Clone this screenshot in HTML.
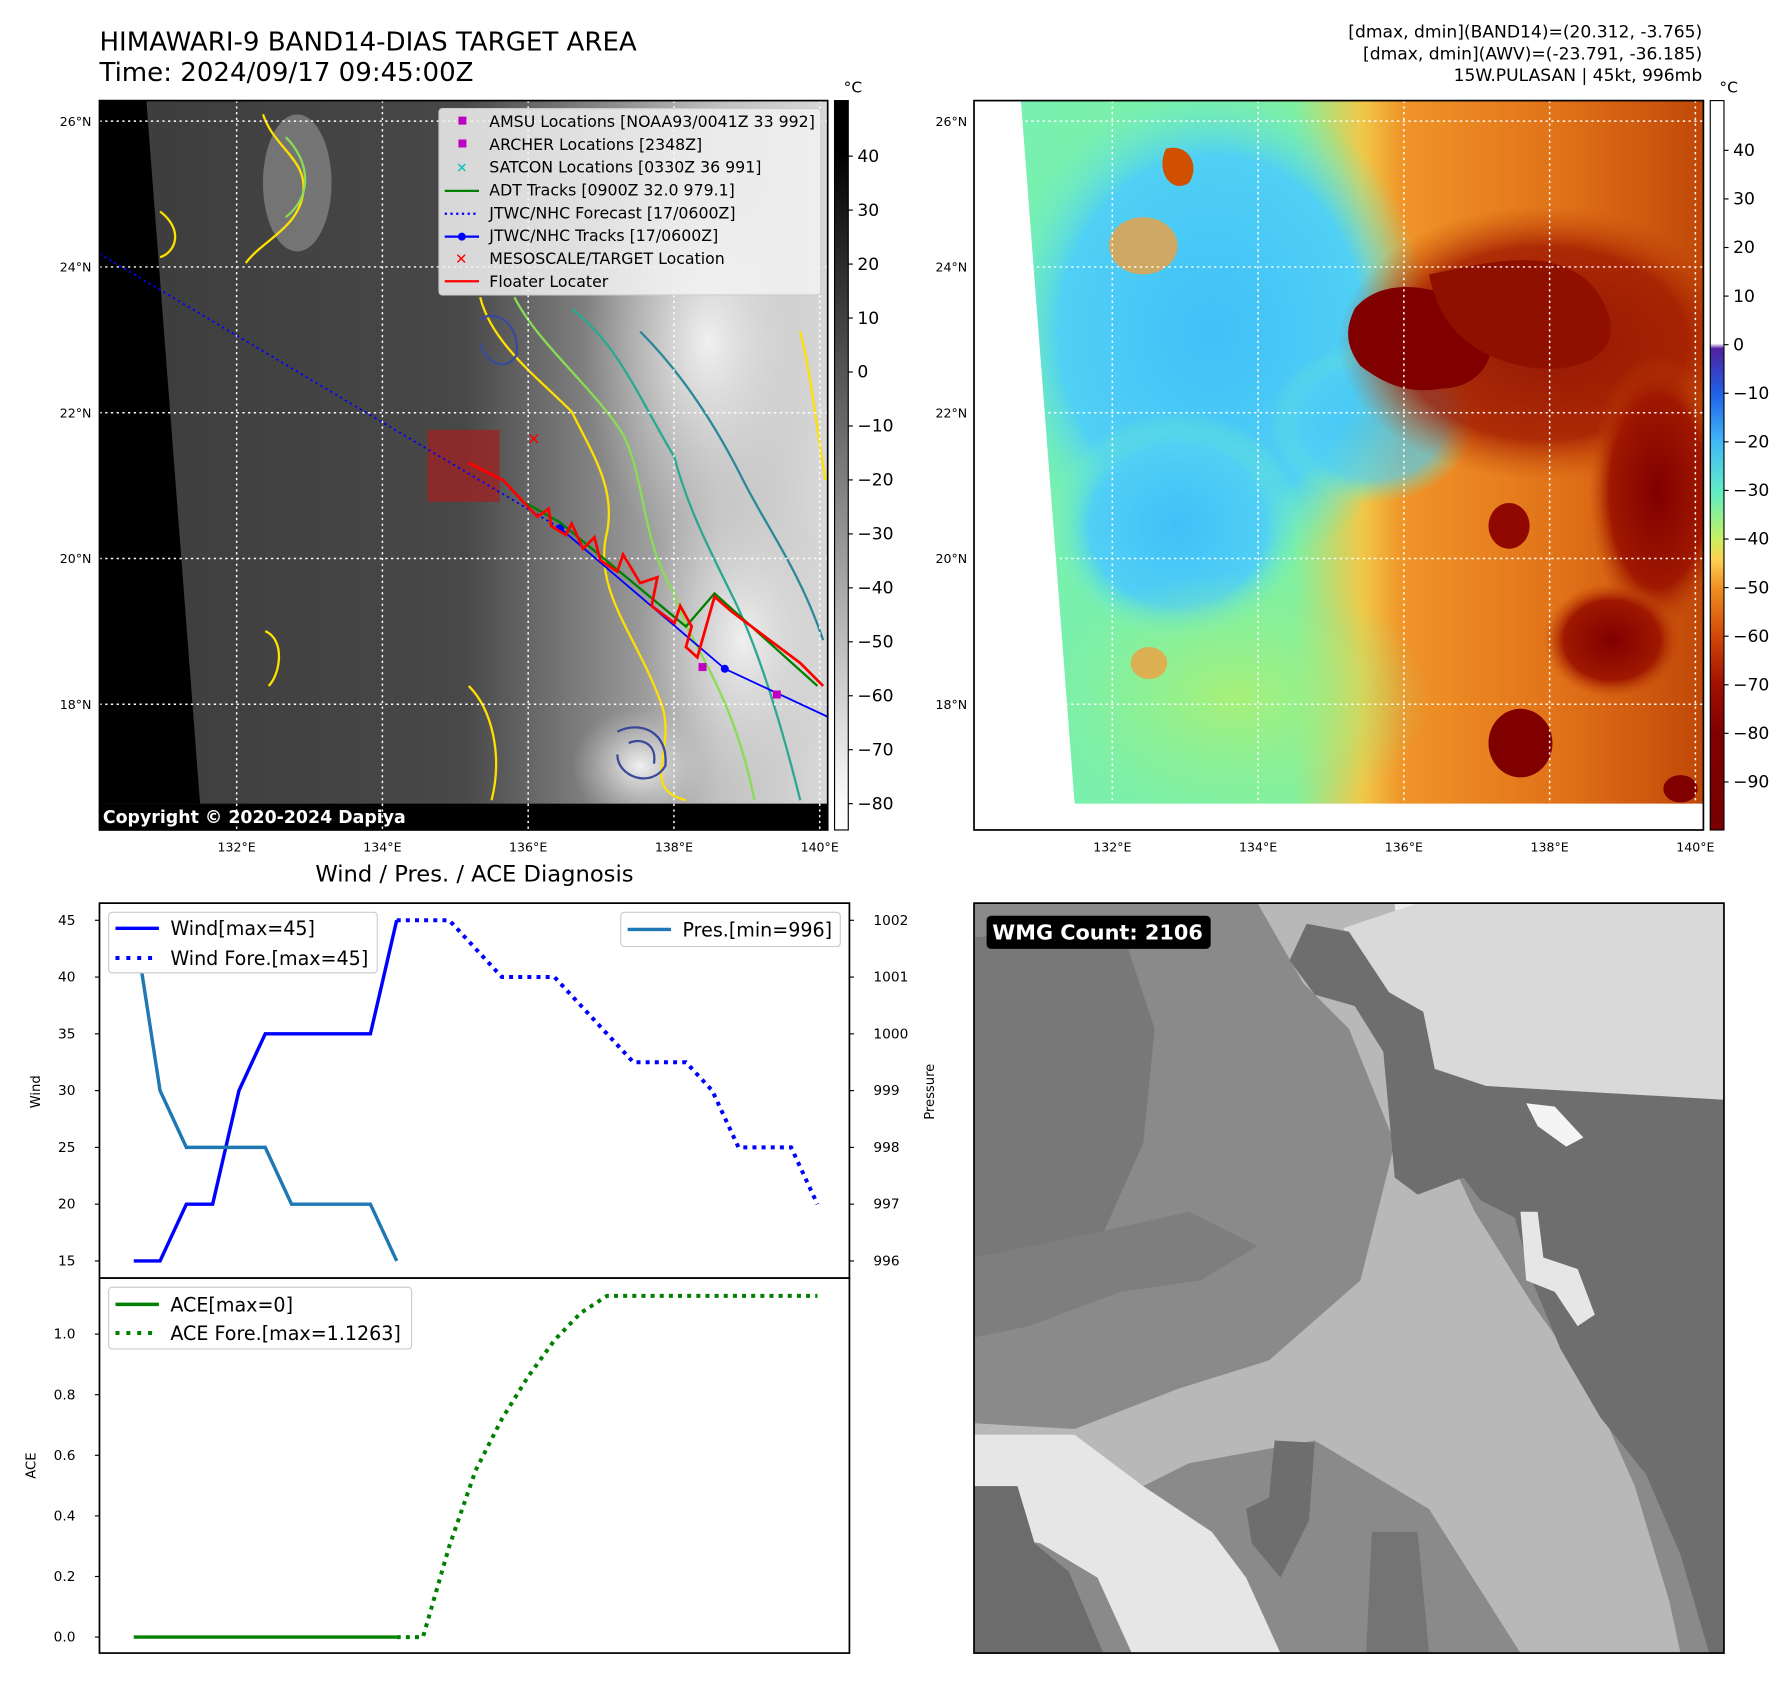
<!DOCTYPE html>
<html><head><meta charset="utf-8"><style>
html,body{margin:0;padding:0;background:#fff}
svg{display:block;font-family:"DejaVu Sans","Liberation Sans",sans-serif}
</style></head><body>
<svg id="fig" width="1792" height="1690" viewBox="0 0 1567.5 1478.3" xmlns="http://www.w3.org/2000/svg">
<defs>
<linearGradient id="gcb" x1="0" y1="1" x2="0" y2="0">
<stop offset="0" stop-color="#ffffff"/><stop offset="0.04" stop-color="#fafafa"/><stop offset="0.93" stop-color="#000"/><stop offset="1" stop-color="#000"/></linearGradient>
<linearGradient id="ccb" x1="0" y1="1" x2="0" y2="0">
<stop offset="0" stop-color="#780000"/><stop offset="0.133" stop-color="#800000"/><stop offset="0.199" stop-color="#a01000"/><stop offset="0.266" stop-color="#d04808"/><stop offset="0.332" stop-color="#f09020"/><stop offset="0.37" stop-color="#ffd050"/><stop offset="0.399" stop-color="#c8f060"/><stop offset="0.44" stop-color="#80f0a0"/><stop offset="0.465" stop-color="#60ecc8"/><stop offset="0.532" stop-color="#40b8f8"/><stop offset="0.599" stop-color="#2060e8"/><stop offset="0.66" stop-color="#5020a0"/><stop offset="0.667" stop-color="#ffffff"/><stop offset="1" stop-color="#ffffff"/></linearGradient>
<linearGradient id="lmap" x1="0" y1="0" x2="1" y2="0">
<stop offset="0" stop-color="#3c3c3c"/><stop offset="0.5" stop-color="#484848"/><stop offset="0.7" stop-color="#8a8a8a"/><stop offset="0.85" stop-color="#c0c0c0"/><stop offset="1" stop-color="#d8d8d8"/></linearGradient>
<linearGradient id="rmap" x1="0" y1="0" x2="1" y2="0">
<stop offset="0" stop-color="#78f0b0"/><stop offset="0.4" stop-color="#80f0a0"/><stop offset="0.5" stop-color="#f0c848"/><stop offset="0.56" stop-color="#f09428"/><stop offset="0.8" stop-color="#e07018"/><stop offset="1" stop-color="#c04808"/></linearGradient>
<radialGradient id="cyan" cx="0.5" cy="0.5" r="0.5"><stop offset="0" stop-color="#40c0f8"/><stop offset="0.7" stop-color="#50d0f4"/><stop offset="1" stop-color="#70f0c0" stop-opacity="0"/></radialGradient>
<radialGradient id="cloud" cx="0.5" cy="0.5" r="0.5"><stop offset="0" stop-color="#f0f0f0"/><stop offset="1" stop-color="#c8c8c8" stop-opacity="0"/></radialGradient>
<radialGradient id="dred" cx="0.5" cy="0.5" r="0.5"><stop offset="0" stop-color="#800000"/><stop offset="0.7" stop-color="#a01800"/><stop offset="1" stop-color="#c04808" stop-opacity="0"/></radialGradient>
<radialGradient id="grn" cx="0.5" cy="0.5" r="0.5"><stop offset="0" stop-color="#a8f078"/><stop offset="1" stop-color="#90f090" stop-opacity="0"/></radialGradient>
<clipPath id="clipL"><rect x="87" y="88" width="637" height="638"/></clipPath>
<clipPath id="clipR"><rect x="852" y="88" width="638" height="638"/></clipPath>
<clipPath id="clipRP"><polygon points="893,88 1490,88 1490,703 940,703"/></clipPath>
</defs>

<text x="87" y="44" font-size="22.8">HIMAWARI-9 BAND14-DIAS TARGET AREA</text>
<text x="87" y="71" font-size="22.8">Time: 2024/09/17 09:45:00Z</text>
<text x="1489" y="33" font-size="15" text-anchor="end">[dmax, dmin](BAND14)=(20.312, -3.765)</text>
<text x="1489" y="52" font-size="15" text-anchor="end">[dmax, dmin](AWV)=(-23.791, -36.185)</text>
<text x="1489" y="71" font-size="15" text-anchor="end">15W.PULASAN | 45kt, 996mb</text>

<g id="leftmap" clip-path="url(#clipL)">
<rect x="87" y="88" width="637" height="638" fill="url(#lmap)"/>
<ellipse cx="620" cy="300" rx="110" ry="190" fill="url(#cloud)"/>
<ellipse cx="650" cy="560" rx="90" ry="150" fill="url(#cloud)"/>
<ellipse cx="560" cy="670" rx="60" ry="50" fill="url(#cloud)"/>
<ellipse cx="260" cy="160" rx="30" ry="60" fill="#8a8a8a" opacity="0.7"/>
<polygon points="87,88 128,88 175,703 87,703" fill="#000"/>
<rect x="87" y="703" width="637" height="23" fill="#000"/>
<g fill="none" stroke-width="2">
<path d="M420,260 C430,300 470,330 500,360 C520,400 540,430 530,470 C520,520 560,560 580,620 C590,660 560,690 600,700" stroke="#ffe000"/>
<path d="M450,260 C470,300 520,340 545,380 C565,420 560,470 590,520 C600,560 640,600 660,700" stroke="#88dd55"/>
<path d="M500,270 C540,300 560,350 590,400 C600,440 620,480 640,520 C660,560 680,620 700,700" stroke="#2aa890"/>
<path d="M560,290 C600,330 630,380 650,420 C670,460 700,500 720,560" stroke="#2a8898"/>
<path d="M230,100 C240,130 270,140 265,170 C260,200 230,210 215,230" stroke="#ffe000"/>
<path d="M250,120 C270,140 275,170 250,190" stroke="#88dd55"/>
<path d="M140,185 C160,200 155,220 140,225" stroke="#ffe000"/>
<path d="M232,552 C250,560 245,590 235,600" stroke="#ffe000"/>
<path d="M410,600 C430,620 440,660 430,700" stroke="#ffe000"/>
<path d="M420,280 C430,270 455,280 452,310 C445,325 425,320 420,300" stroke="#3a4a9a"/>
<path d="M540,640 C560,630 585,640 582,670 C570,690 540,680 540,660" stroke="#3a4a9a"/>
<path d="M550,650 C560,645 575,650 572,668" stroke="#3a4a9a"/>
<path d="M700,290 C710,330 715,380 722,420" stroke="#ffe000"/>
</g>
<g stroke="#fff" stroke-width="1.3" stroke-dasharray="2,3" fill="none" id="lgrid"></g>
<rect x="374" y="376" width="63" height="63" fill="#a02020" opacity="0.75"/>
<polyline points="87,222 490,462" stroke="#0000ff" stroke-width="1.6" stroke-dasharray="2,3" fill="none"/>
<polyline points="490,462 634,585 724,627" stroke="#0000ff" stroke-width="1.6" fill="none"/>
<circle cx="490" cy="462" r="3.5" fill="#0000ff"/><circle cx="634" cy="585" r="3.5" fill="#0000ff"/>
<polyline points="460,440 490,457 600,548 625,519 715,600" stroke="#008000" stroke-width="2" fill="none"/>
<polyline points="410,405 440,420 470,452 480,445 482,460 495,468 500,458 510,480 520,470 525,490 540,500 545,485 560,510 575,505 570,530 590,545 595,530 605,548 600,566 610,575 625,522 640,535 700,580 720,600" stroke="#ff0000" stroke-width="2.4" fill="none"/>
<rect x="611" y="580" width="7" height="7" fill="#c000c0"/><rect x="676" y="604" width="7" height="7" fill="#c000c0"/>
<text x="461" y="389" fill="#ff0000" font-size="14" font-weight="bold">✕</text>
<text x="90" y="720" fill="#fff" font-size="15.2" font-weight="bold">Copyright © 2020-2024 Dapiya</text>
</g>
<rect x="87" y="88" width="637" height="638" fill="none" stroke="#000" stroke-width="1.5"/>

<g>
<rect x="384" y="95" width="334" height="163" rx="3" fill="#f2f2f2" fill-opacity="0.85" stroke="#ccc"/>
<g font-size="13.8">
<rect x="401" y="102" width="7" height="7" fill="#c000c0"/><text x="428" y="111">AMSU Locations [NOAA93/0041Z 33 992]</text>
<rect x="401" y="122" width="7" height="7" fill="#c000c0"/><text x="428" y="131">ARCHER Locations [2348Z]</text>
<text x="399" y="151" fill="#00c0c0" font-size="12" font-weight="bold">✕</text><text x="428" y="151">SATCON Locations [0330Z 36 991]</text>
<line x1="389" y1="167" x2="419" y2="167" stroke="#008000" stroke-width="2"/><text x="428" y="171">ADT Tracks [0900Z 32.0 979.1]</text>
<line x1="389" y1="187" x2="419" y2="187" stroke="#0000ff" stroke-width="2" stroke-dasharray="2,3"/><text x="428" y="191">JTWC/NHC Forecast [17/0600Z]</text>
<line x1="389" y1="207" x2="419" y2="207" stroke="#0000ff" stroke-width="2"/><circle cx="404" cy="207" r="3.5" fill="#0000ff"/><text x="428" y="211">JTWC/NHC Tracks [17/0600Z]</text>
<text x="398" y="231" fill="#ff0000" font-size="13" font-weight="bold">✕</text><text x="428" y="231">MESOSCALE/TARGET Location</text>
<line x1="389" y1="246" x2="419" y2="246" stroke="#ff0000" stroke-width="2"/><text x="428" y="251">Floater Locater</text>
</g></g>

<rect x="730" y="88" width="12" height="638" fill="url(#gcb)" stroke="#000" stroke-width="1"/>
<text x="738" y="81" font-size="13.5">°C</text>
<g id="cb1" font-size="15"></g>

<g clip-path="url(#clipR)">
<rect x="852" y="88" width="638" height="638" fill="#fff"/>
<polygon points="893,88 1490,88 1490,703 940,703" fill="url(#rmap)"/>
<g clip-path="url(#clipRP)">
<ellipse cx="1060" cy="290" rx="190" ry="220" fill="url(#cyan)"/>
<ellipse cx="1030" cy="460" rx="110" ry="100" fill="url(#cyan)"/>
<ellipse cx="1200" cy="370" rx="90" ry="70" fill="url(#cyan)" opacity="0.7"/>
<ellipse cx="1080" cy="610" rx="170" ry="110" fill="url(#grn)"/>
<ellipse cx="1350" cy="300" rx="180" ry="120" fill="url(#dred)" opacity="0.8"/>
<path d="M1185,270 C1210,240 1260,250 1290,270 C1320,300 1300,340 1260,340 C1230,345 1210,335 1190,320 C1175,300 1178,285 1185,270Z" fill="#800000"/>
<path d="M1250,240 C1300,230 1370,210 1400,260 C1430,310 1380,330 1330,320 C1290,310 1260,290 1250,240Z" fill="#901000"/>
<path d="M1020,130 C1040,125 1050,145 1040,160 C1025,170 1010,150 1020,130Z" fill="#d05000"/>
<ellipse cx="1330" cy="650" rx="28" ry="30" fill="#800000"/>
<ellipse cx="1450" cy="430" rx="60" ry="120" fill="url(#dred)"/>
<ellipse cx="1410" cy="560" rx="60" ry="50" fill="url(#dred)"/>
<ellipse cx="1320" cy="460" rx="18" ry="20" fill="#900800"/>
<ellipse cx="1470" cy="690" rx="15" ry="12" fill="#800000"/>
<ellipse cx="1000" cy="215" rx="30" ry="25" fill="#f0a040" opacity="0.8"/>
<ellipse cx="1005" cy="580" rx="16" ry="14" fill="#f0a040" opacity="0.8"/>
</g>
<g stroke="#fff" stroke-width="1.3" stroke-dasharray="2,3" fill="none" id="rgrid"></g>
</g>
<rect x="852" y="88" width="638" height="638" fill="none" stroke="#000" stroke-width="1.5"/>
<rect x="1496" y="88" width="12" height="638" fill="url(#ccb)" stroke="#000" stroke-width="1"/>
<text x="1504" y="81" font-size="13.5">°C</text>
<g id="cb2" font-size="15"></g>
<g id="maplabels" font-size="11"></g>

<text x="415" y="771" font-size="19.8" text-anchor="middle">Wind / Pres. / ACE Diagnosis</text>
<g id="chart1"></g>
<g id="chart2"></g>

<g>
<clipPath id="clipW"><rect x="852" y="790" width="656" height="656"/></clipPath>
<g clip-path="url(#clipW)">
<rect x="852" y="790" width="656" height="656" fill="#8a8a8a"/>
<polygon points="852,820 980,810 1010,900 1000,1000 960,1090 900,1120 852,1110" fill="#787878"/>
<polygon points="852,1100 950,1080 1040,1060 1100,1090 1050,1120 980,1130 900,1160 852,1170" fill="#7e7e7e"/>
<polygon points="1100,790 1240,790 1250,870 1262,1000 1290,1060 1340,1140 1390,1210 1430,1300 1460,1400 1470,1446 1330,1446 1250,1320 1150,1260 1040,1280 980,1310 930,1330 852,1290 852,1245 940,1250 1030,1215 1110,1190 1190,1120 1220,1000 1180,900 1140,860" fill="#b8b8b8"/>
<polygon points="1220,790 1250,790 1255,870 1265,1000 1255,1030 1240,960 1225,880" fill="#ececec"/>
<polygon points="1240,790 1508,790 1508,965 1300,950 1250,935 1240,885 1200,860 1175,812" fill="#d9d9d9"/>
<polygon points="1143,808 1180,815 1215,868 1245,885 1255,935 1300,950 1508,962 1508,1446 1495,1446 1470,1360 1440,1290 1400,1240 1365,1180 1340,1120 1325,1065 1295,1050 1280,1030 1240,1045 1220,1030 1210,920 1185,880 1150,870 1128,840" fill="#6e6e6e"/>
<polygon points="1330,1060 1345,1060 1350,1100 1380,1110 1395,1150 1380,1160 1360,1130 1335,1120" fill="#e6e6e6"/>
<polygon points="1335,965 1360,968 1385,995 1370,1003 1345,985" fill="#f4f4f4"/>
<polygon points="852,1255 940,1255 1000,1300 1060,1340 1090,1380 1120,1446 990,1446 960,1380 910,1350 852,1340" fill="#e6e6e6"/>
<polygon points="852,1300 890,1300 905,1350 935,1375 965,1446 852,1446" fill="#6c6c6c"/>
<polygon points="1115,1260 1150,1262 1145,1330 1120,1380 1095,1350 1090,1320 1110,1310" fill="#6e6e6e"/>
<polygon points="1200,1340 1240,1340 1250,1446 1195,1446" fill="#747474"/>
</g>
<rect x="852" y="790" width="656" height="656" fill="none" stroke="#000" stroke-width="1.5"/>
<rect x="863" y="801" width="196" height="29" rx="4" fill="#000"/>
<text x="868" y="822" fill="#fff" font-size="18.2" font-weight="bold">WMG Count: 2106</text>
</g>
</svg>
<script>
const timeIndex = [0,1,2,3,4,5,6,7,8,9,10,11,12,13,14,15,16,17,18,19,20,21,22,23,24,25,26];
const windObs = [15,15,20,20,30,35,35,35,35,35,45];
const windFore = [45,45,45,42.5,40,40,40,37.5,35,32.5,32.5,32.5,30,25,25,25,20];
const presObs = [1002,999,998,998,998,998,997,997,997,997,996];
const aceObs = [0,0,0,0,0,0,0,0,0,0,0];
const aceFore = [0,0,0.3,0.55,0.72,0.86,0.98,1.07,1.1263,1.1263,1.1263,1.1263,1.1263,1.1263,1.1263,1.1263,1.1263];
const windTicks = [15,20,25,30,35,40,45];
const presTicks = [996,997,998,999,1000,1001,1002];
const aceTicks = [0.0,0.2,0.4,0.6,0.8,1.0];
const ir_ticks = [40,30,20,10,0,-10,-20,-30,-40,-50,-60,-70,-80];
const awv_ticks = [40,30,20,10,0,-10,-20,-30,-40,-50,-60,-70,-80,-90];
const latTicks = [26,24,22,20,18];
const lonTicks = [132,134,136,138,140];

const NS='http://www.w3.org/2000/svg';
function mk(tag, parent, attrs){const e=document.createElementNS(NS,tag);for(const k in attrs)e.setAttribute(k,attrs[k]);parent.appendChild(e);return e;}

const xT = i => 117 + i*23;
const yWind = v => 1103 - (v-15)*(298/30);
const yPres = v => 1103 - (v-996)*(298/6);
const yAce = v => 1432 - v*265;
const yIR = v => 703 - (-80 - v)*(-4.72);
const yAWV = v => 684 - (v+90)*4.25;
const yLat = l => 106 + (26-l)*63.75;
const xLonL = l => 207 + (l-132)*63.75;
const xLonR = l => 973 + (l-132)*63.75;

const cb1=document.getElementById('cb1');
ir_ticks.forEach(v=>{const y=yIR(v);
 mk('line',cb1,{x1:742,y1:y,x2:746,y2:y,stroke:'#000'});
 const t=mk('text',cb1,{x:750,y:y+5});t.textContent=(v<0?'\u2212'+(-v):v);
 
 });
const cb2=document.getElementById('cb2');
awv_ticks.forEach(v=>{const y=yAWV(v);
 mk('line',cb2,{x1:1508,y1:y,x2:1512,y2:y,stroke:'#000'});
 const t=mk('text',cb2,{x:1516,y:y+5});t.textContent=(v<0?'\u2212'+(-v):v);
 
 });

const lg=document.getElementById('lgrid'), rg=document.getElementById('rgrid'), ml=document.getElementById('maplabels');
latTicks.forEach(l=>{const y=yLat(l);
 mk('line',lg,{x1:87,y1:y,x2:724,y2:y}); mk('line',rg,{x1:852,y1:y,x2:1490,y2:y});
 const a=mk('text',ml,{x:80,y:y+4,'text-anchor':'end'});a.textContent=l+'°N';
 
 
 const b=mk('text',ml,{x:846,y:y+4,'text-anchor':'end'});b.textContent=l+'°N';
 
 });
lonTicks.forEach(l=>{const x=xLonL(l), x2=xLonR(l);
 mk('line',lg,{x1:x,y1:88,x2:x,y2:726}); mk('line',rg,{x1:x2,y1:88,x2:x2,y2:726});
 const a=mk('text',ml,{x:x,y:745,'text-anchor':'middle'});a.textContent=l+'°E';
 
 
 const b=mk('text',ml,{x:x2,y:745,'text-anchor':'middle'});b.textContent=l+'°E';
 
 });

const c1=document.getElementById('chart1');
mk('rect',c1,{x:87,y:790,width:656,height:328,fill:'#fff',stroke:'#000','stroke-width':1.5});
windTicks.forEach(v=>{const y=yWind(v);mk('line',c1,{x1:83,y1:y,x2:87,y2:y,stroke:'#000'});
 const t=mk('text',c1,{x:66,y:y+4,'font-size':12,'text-anchor':'end'});t.textContent=v;
 
 });
presTicks.forEach(v=>{const y=yPres(v);mk('line',c1,{x1:743,y1:y,x2:747,y2:y,stroke:'#000'});
 const t=mk('text',c1,{x:764,y:y+4,'font-size':12}); t.textContent=v;
 
 });
let t1=mk('text',c1,{x:35,y:955,'font-size':11.5,transform:'rotate(-90 35 955)','text-anchor':'middle'});t1.textContent='Wind';
t1=mk('text',c1,{x:817,y:955,'font-size':11.5,transform:'rotate(-90 817 955)','text-anchor':'middle'});t1.textContent='Pressure';
function line(parent, xs, ys, attrs){return mk('polyline',parent,Object.assign({points:xs.map((x,i)=>x+','+ys[i]).join(' '),fill:'none'},attrs));}
let p=line(c1, windObs.map((v,i)=>xT(i)), windObs.map(yWind), {stroke:'#0000ff','stroke-width':3});


p=line(c1, windFore.map((v,i)=>xT(i+10)), windFore.map(yWind), {stroke:'#0000ff','stroke-width':3.5,'stroke-dasharray':'3.5,4.5'});


p=line(c1, presObs.map((v,i)=>xT(i)), presObs.map(yPres), {stroke:'#1f77b4','stroke-width':3});


let lgd=mk('g',c1,{});


mk('rect',lgd,{x:95,y:798,width:235,height:53,rx:3,fill:'#fff',stroke:'#ccc'});
mk('line',lgd,{x1:101,y1:812,x2:139,y2:812,stroke:'#0000ff','stroke-width':3});
let tt=mk('text',lgd,{x:149,y:818,'font-size':16.7});tt.textContent='Wind[max=45]';
mk('line',lgd,{x1:101,y1:838,x2:139,y2:838,stroke:'#0000ff','stroke-width':3.5,'stroke-dasharray':'3.5,6'});
tt=mk('text',lgd,{x:149,y:844,'font-size':16.7});tt.textContent='Wind Fore.[max=45]';
lgd=mk('g',c1,{});


mk('rect',lgd,{x:543,y:798,width:192,height:30,rx:3,fill:'#fff',stroke:'#ccc'});
mk('line',lgd,{x1:549,y1:813,x2:587,y2:813,stroke:'#1f77b4','stroke-width':3});
tt=mk('text',lgd,{x:597,y:819,'font-size':16.7});tt.textContent='Pres.[min=996]';

const c2=document.getElementById('chart2');
mk('rect',c2,{x:87,y:1118,width:656,height:328,fill:'#fff',stroke:'#000','stroke-width':1.5});
aceTicks.forEach(v=>{const y=yAce(v);mk('line',c2,{x1:83,y1:y,x2:87,y2:y,stroke:'#000'});
 const t=mk('text',c2,{x:66,y:y+4,'font-size':12,'text-anchor':'end'});t.textContent=v.toFixed(1);
 
 });
t1=mk('text',c2,{x:31,y:1282,'font-size':11.5,transform:'rotate(-90 31 1282)','text-anchor':'middle'});t1.textContent='ACE';
p=line(c2, aceObs.map((v,i)=>xT(i)), aceObs.map(yAce), {stroke:'#008000','stroke-width':3});


p=line(c2, aceFore.map((v,i)=>xT(i+10)), aceFore.map(yAce), {stroke:'#008000','stroke-width':3.5,'stroke-dasharray':'3.5,4.5'});


lgd=mk('g',c2,{});


mk('rect',lgd,{x:95,y:1126,width:265,height:54,rx:3,fill:'#fff',stroke:'#ccc'});
mk('line',lgd,{x1:101,y1:1141,x2:139,y2:1141,stroke:'#008000','stroke-width':3});
tt=mk('text',lgd,{x:149,y:1147,'font-size':16.7});tt.textContent='ACE[max=0]';
mk('line',lgd,{x1:101,y1:1166,x2:139,y2:1166,stroke:'#008000','stroke-width':3.5,'stroke-dasharray':'3.5,6'});
tt=mk('text',lgd,{x:149,y:1172,'font-size':16.7});tt.textContent='ACE Fore.[max=1.1263]';
</script>
</body></html>
